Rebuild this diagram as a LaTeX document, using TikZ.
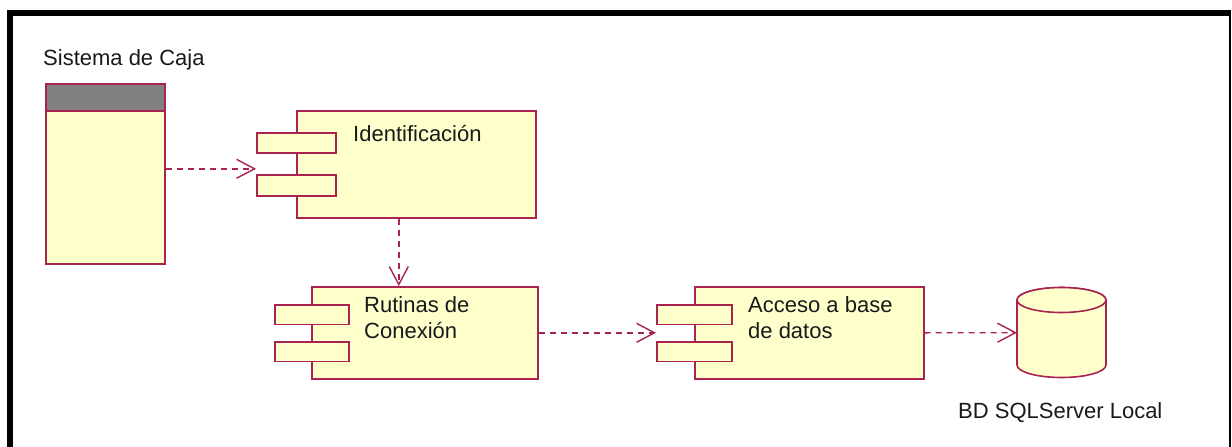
\documentclass[tikz,border=0pt]{standalone}
\usepackage{fontspec}
\setmainfont{Liberation Sans}
\usetikzlibrary{arrows.meta}
\definecolor{umlred}{HTML}{A8234F}
\definecolor{umlfill}{HTML}{FFFFCC}
\definecolor{umlgray}{HTML}{808080}
\begin{document}
\begin{tikzpicture}[x=1pt,y=-1pt,
  umlline/.style={draw=umlred,line width=1.6pt},
  compbox/.style={umlline,fill=umlfill,inner sep=0pt,anchor=north west},
  portbox/.style={compbox,minimum width=76pt,minimum height=19.5pt},
  dep/.style={draw=umlred,line width=1.4pt,dash pattern=on 6pt off 5pt,
    -{Straight Barb[length=18pt,width=19pt,line width=1.4pt]}},
  txt/.style={font=\fontsize{22}{26}\selectfont,inner sep=0pt,text=black!90}
]
\useasboundingbox (0,0) rectangle (1232,447);
% frame
\draw[line width=6pt] (7,13) -- (1231,13);
\draw[line width=6pt] (10,10) -- (10,447);
\draw[line width=2pt] (1230,12) -- (1230,447);

% Sistema de Caja
\node[txt,anchor=base west] (syslbl) at (43,65) {Sistema de Caja};
\node[compbox,minimum width=119pt,minimum height=180pt] (sys) at (45,83) {};
\node[compbox,fill=umlgray,minimum width=119pt,minimum height=27pt] (syshead) at (45,83) {};

% Identificacion
\node[compbox,minimum width=239pt,minimum height=107pt] (ident) at (296,110) {};
\node[portbox,minimum width=79pt,minimum height=20pt] (identp1) at (256,132) {};
\node[portbox,minimum width=79pt,minimum height=21pt] (identp2) at (256,174) {};
\node[txt,anchor=base west] (identlbl) at (353,141) {Identificación};

% Rutinas de Conexion
\node[compbox,minimum width=226pt,minimum height=92pt] (rut) at (311,286) {};
\node[portbox,minimum width=74pt] (rutp1) at (274,304) {};
\node[portbox,minimum width=74pt] (rutp2) at (274,341) {};
\node[txt,anchor=north west,align=left] (rutlbl) at (364,296.3) {Rutinas de\\Conexión};

% Acceso a base de datos
\node[compbox,minimum width=229pt,minimum height=92pt] (acc) at (694,286) {};
\node[portbox,minimum width=75pt] (accp1) at (656,304) {};
\node[portbox,minimum width=75pt] (accp2) at (656,341) {};
\node[txt,anchor=north west,align=left] (acclbl) at (748,296.3) {Acceso a base\\de datos};

% Database cylinder
\node[inner sep=0pt,minimum width=89pt,minimum height=90pt,anchor=north west] (db) at (1017,287.5) {};
\path[umlline,fill=umlfill] (1017,300) -- (1017,365)
  arc[start angle=180,end angle=0,x radius=44.5,y radius=12.5]
  -- (1106,300)
  arc[start angle=0,end angle=-180,x radius=44.5,y radius=12.5] -- cycle;
\draw[umlline,fill=umlfill] (1061.5,300) ellipse[x radius=44.5,y radius=12.5];
\node[txt,anchor=base west] (dblbl) at (958,418) {BD SQLServer Local};

% dependencies
\draw[dep] ([yshift=5pt]sys.east) -- ([yshift=5pt]sys.east -| identp1.west);
\draw[dep] ([xshift=-17.5pt]ident.south) -- ([xshift=-17.5pt]ident.south |- rut.north);
\draw[dep] (rut.east) -- (rut.east -| accp1.west);
\draw[dep] (acc.east) -- (db.west);
\end{tikzpicture}
\end{document}
